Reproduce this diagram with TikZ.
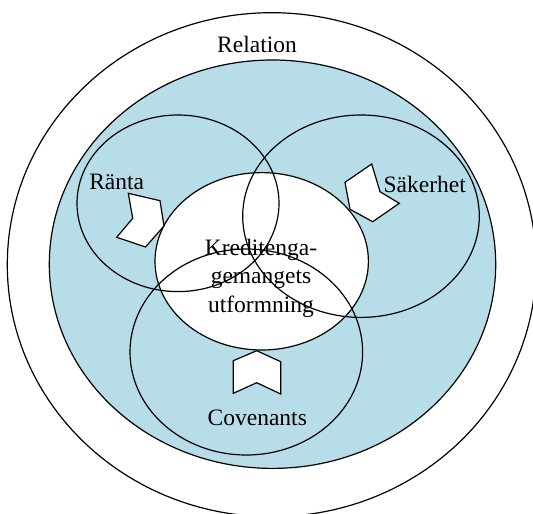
\documentclass[tikz,border=0pt]{standalone}
\usepackage{fontspec}
\setmainfont{Liberation Serif}
\usepackage{xcolor}
\definecolor{paleblue}{RGB}{183,221,232}

\begin{document}
\begin{tikzpicture}[
  x=0.5pt, y=-0.5pt,
  ring/.style={draw=black, line width=0.6pt},
  lbl/.style={font=\fontsize{11.75}{14.25}\selectfont, inner sep=0pt},
  chev/.style={draw=black, fill=white, line width=0.6pt, line join=miter}
]
  \clip (0,0) rectangle (533,513);

  % outer relation ring and blue field
  \draw[ring, fill=white] (271.7,264.7) ellipse [x radius=264.4, y radius=252];
  \draw[ring, fill=paleblue] (272.5,264.2) ellipse [x radius=223.2, y radius=204.2];
  \draw[ring, fill=white] (261.7,261.3) ellipse [x radius=106.7, y radius=88.7];

  \node[lbl, anchor=base] (relation) at (257,52.7) {Relation};
  \node[lbl, align=center] (kredit) at (261,278) {Kreditenga-\\gemangets\\utformning};

  % the three overlapping circles
  \draw[ring] (178,203.3) ellipse [x radius=101, y radius=88.3];
  \draw[ring] (361,216.2) ellipse [x radius=118.3, y radius=101.2];
  \draw[ring] (246.3,352) ellipse [x radius=116.3, y radius=103];

  % chevrons
  \draw[chev] (128.3,193.3) -- (160,200.7) -- (164,226) -- (145.5,247)
              -- (116.7,237.3) -- (132.7,218.3) -- cycle;
  \draw[chev] (371.7,164) -- (345,182.3) -- (350,209.3) -- (372.7,221.7)
              -- (399.3,203.3) -- (380,191.7) -- cycle;
  \draw[chev] (233.3,360.7) -- (256.7,350.7) -- (280.7,361.7) -- (280.7,394)
              -- (256.7,382.7) -- (233.3,393.3) -- cycle;

  \node[lbl, anchor=base] (ranta) at (116.7,189) {Ränta};
  \node[lbl, anchor=base] (sakerhet) at (424.7,192.3) {Säkerhet};
  \node[lbl, anchor=base] (covenants) at (257.3,425) {Covenants};
\end{tikzpicture}
\end{document}
